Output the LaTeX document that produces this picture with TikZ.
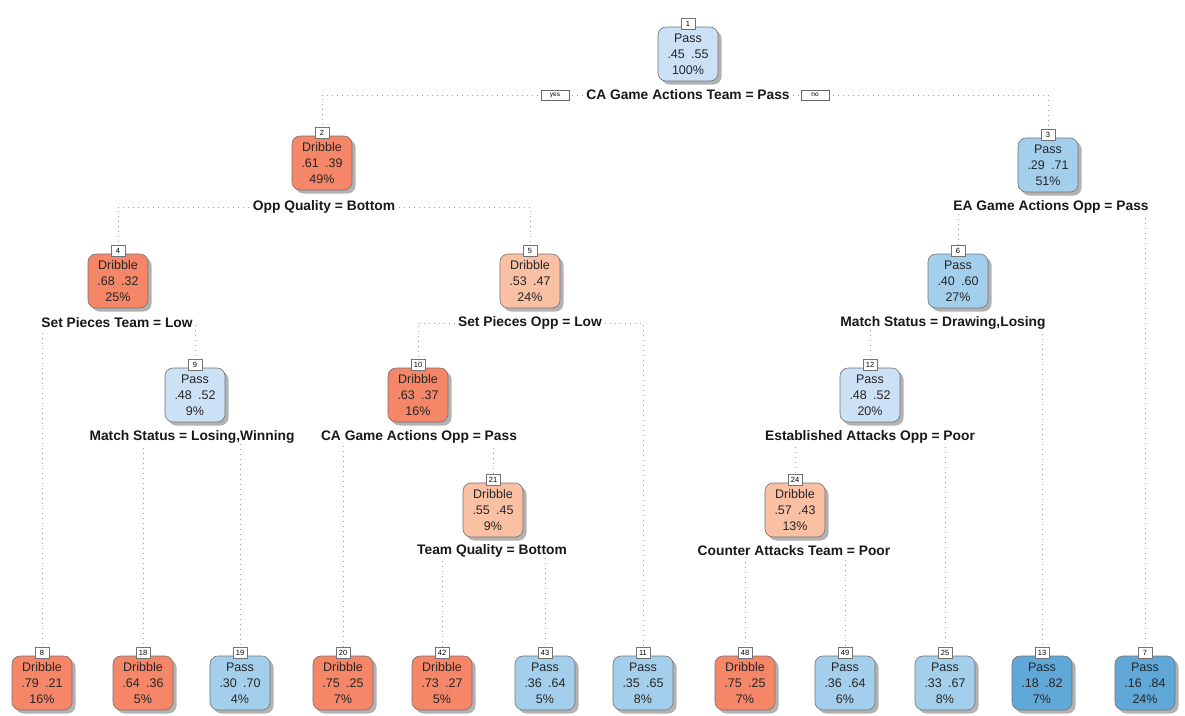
\documentclass[tikz,border=0pt]{standalone}
\usepackage{fontspec}
\setmainfont{Liberation Sans}
\usetikzlibrary{shadows,backgrounds}

\definecolor{dribD}{RGB}{245,134,104}
\definecolor{dribL}{RGB}{250,192,164}
\definecolor{passL}{RGB}{204,224,246}
\definecolor{passM}{RGB}{164,207,236}
\definecolor{passD}{RGB}{96,168,216}
\definecolor{edgegray}{RGB}{160,160,160}

\tikzset{
  tbox/.style={draw=black!55, line width=0.6pt, rounded corners=8pt,
    minimum width=60pt, minimum height=54pt, inner sep=1pt, align=center,
    font=\fontsize{12.5}{16}\selectfont, text=black!85,
    drop shadow={shadow xshift=3.5pt, shadow yshift=-3.5pt, fill=black, opacity=0.3}},
  tab/.style={draw=black!55, fill=white, line width=0.5pt, anchor=south,
    minimum width=14pt, minimum height=11pt, inner sep=0.5pt,
    font=\fontsize{7.5}{7.5}\selectfont},
  split/.style={fill=white, inner xsep=2pt, inner ysep=1pt,
    font=\fontsize{13.8}{14}\selectfont\bfseries, text=black!90},
  yesno/.style={draw=black!60, fill=white, line width=0.5pt,
    minimum width=28pt, minimum height=10pt, inner sep=0.5pt,
    font=\fontsize{6.5}{7}\selectfont},
  edge/.style={draw=edgegray, line width=1pt, dash pattern=on 1pt off 4pt}
}

% tree node: name, x, y, fill, class, p(Dribble), p(Pass), percent, node number
\newcommand\tn[9]{%
  \node[tbox, fill=#4] (#1) at (#2,#3) {#5\\#6\enspace#7\\#8\%};
  \node[tab] (t#1) at ([yshift=-3pt]#1.north) {#9};}

\begin{document}
\begin{tikzpicture}[x=1pt, y=-1pt]
\useasboundingbox (0,0) rectangle (1185,715);

% inner nodes
\tn{n1}{688}{54}{passL}{Pass}{.45}{.55}{100}{1}
\tn{n2}{322}{163}{dribD}{Dribble}{.61}{.39}{49}{2}
\tn{n3}{1048}{165}{passM}{Pass}{.29}{.71}{51}{3}
\tn{n4}{118}{281}{dribD}{Dribble}{.68}{.32}{25}{4}
\tn{n5}{530}{281}{dribL}{Dribble}{.53}{.47}{24}{5}
\tn{n6}{958}{281}{passM}{Pass}{.40}{.60}{27}{6}
\tn{n9}{195}{395}{passL}{Pass}{.48}{.52}{9}{9}
\tn{n10}{418}{395}{dribD}{Dribble}{.63}{.37}{16}{10}
\tn{n12}{870}{395}{passL}{Pass}{.48}{.52}{20}{12}
\tn{n21}{493}{510}{dribL}{Dribble}{.55}{.45}{9}{21}
\tn{n24}{795}{510}{dribL}{Dribble}{.57}{.43}{13}{24}

% leaves
\tn{n8}{42}{683}{dribD}{Dribble}{.79}{.21}{16}{8}
\tn{n18}{143}{683}{dribD}{Dribble}{.64}{.36}{5}{18}
\tn{n19}{240}{683}{passM}{Pass}{.30}{.70}{4}{19}
\tn{n20}{343}{683}{dribD}{Dribble}{.75}{.25}{7}{20}
\tn{n42}{442}{683}{dribD}{Dribble}{.73}{.27}{5}{42}
\tn{n43}{545}{683}{passM}{Pass}{.36}{.64}{5}{43}
\tn{n11}{643}{683}{passM}{Pass}{.35}{.65}{8}{11}
\tn{n48}{745}{683}{dribD}{Dribble}{.75}{.25}{7}{48}
\tn{n49}{845}{683}{passM}{Pass}{.36}{.64}{6}{49}
\tn{n25}{945}{683}{passM}{Pass}{.33}{.67}{8}{25}
\tn{n13}{1042}{683}{passD}{Pass}{.18}{.82}{7}{13}
\tn{n7}{1145}{683}{passD}{Pass}{.16}{.84}{24}{7}

% split rules
\node[split] (s1) at (688,95) {CA Game Actions Team = Pass};
\node[yesno] (yes) at (555,95) {yes};
\node[yesno] (no) at (815,95) {no};
\node[split] (s2) at (324,207) {Opp Quality = Bottom};
\node[split] (s3) at (1051,207) {EA Game Actions Opp = Pass};
\node[split] (s4) at (117,323) {Set Pieces Team = Low};
\node[split] (s5) at (530,323) {Set Pieces Opp = Low};
\node[split] (s6) at (943,323) {Match Status = Drawing,Losing};
\node[split] (s9) at (192,437) {Match Status = Losing,Winning};
\node[split] (s10) at (419,437) {CA Game Actions Opp = Pass};
\node[split] (s12) at (870,437) {Established Attacks Opp = Poor};
\node[split] (s21) at (492,551) {Team Quality = Bottom};
\node[split] (s24) at (794,551) {Counter Attacks Team = Poor};

% branches
\begin{scope}[on background layer]
  \fill[white] (0,0) rectangle (1185,715);
  \draw[edge] (s1.center) -| (tn2.north);
  \draw[edge] (s1.center) -| (tn3.north);
  \draw[edge] (s2.center) -| (tn4.north);
  \draw[edge] (s2.center) -| (tn5.north);
  \draw[edge] (s3.center) -| (tn6.north);
  \draw[edge] (s3.center) -| (tn7.north);
  \draw[edge] (s4.center) -| (tn8.north);
  \draw[edge] (s4.center) -| (tn9.north);
  \draw[edge] (s5.center) -| (tn10.north);
  \draw[edge] (s5.center) -| (tn11.north);
  \draw[edge] (s6.center) -| (tn12.north);
  \draw[edge] (s6.center) -| (tn13.north);
  \draw[edge] (s9.center) -| (tn18.north);
  \draw[edge] (s9.center) -| (tn19.north);
  \draw[edge] (s10.center) -| (tn20.north);
  \draw[edge] (s10.center) -| (tn21.north);
  \draw[edge] (s12.center) -| (tn24.north);
  \draw[edge] (s12.center) -| (tn25.north);
  \draw[edge] (s21.center) -| (tn42.north);
  \draw[edge] (s21.center) -| (tn43.north);
  \draw[edge] (s24.center) -| (tn48.north);
  \draw[edge] (s24.center) -| (tn49.north);
\end{scope}
\end{tikzpicture}
\end{document}
